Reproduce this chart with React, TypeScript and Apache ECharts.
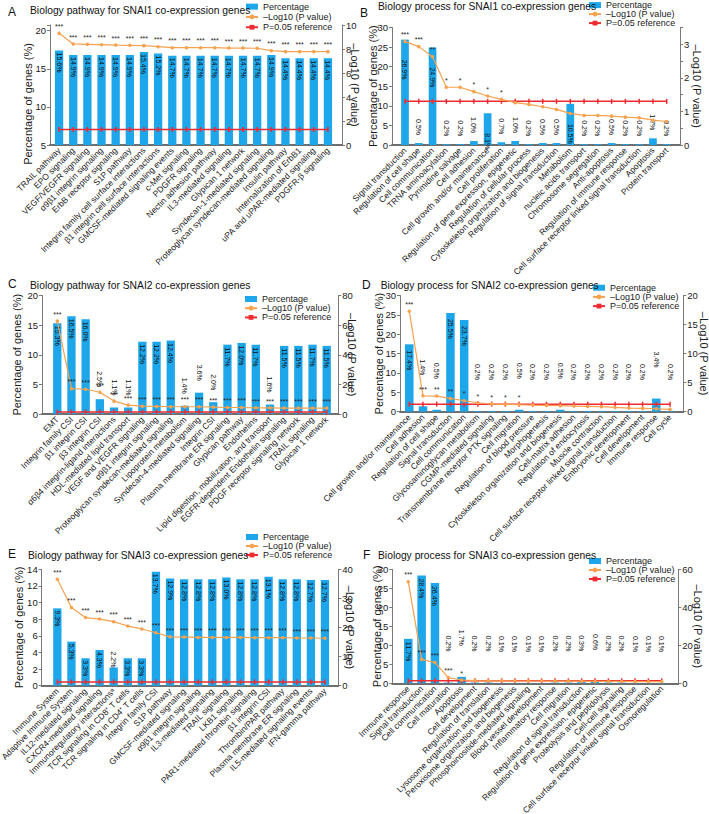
import React, { useEffect, useRef } from 'react';
import * as echarts from 'echarts';

// ---------- DATA ----------
const aCats = ['TRAIL pathway', 'EPO signaling', 'VEGF/VEGFR signaling', 'α9β1 integrin signaling', 'ErbB receptor signaling', 'S1P pathway', 'Integrin family cell surface interactions', 'β1 integrin cell surface interactions', 'GMCSF-mediated signaling events', 'c-Met signaling', 'PDGFR signaling', 'Nectin adhesion pathway', 'IL3-mediated signaling', 'Glypican 1 network', 'Syndecan-1-mediated signaling', 'Proteoglycan syndecan-mediated signaling', 'Insulin pathway', 'Internalization of ErbB1', 'uPA and uPAR-mediated signaling', 'PDGFR-β signaling'];
const aBarHeights = [17.4, 16.8, 16.8, 16.8, 16.8, 16.8, 17.2, 17.0, 16.7, 16.7, 16.7, 16.7, 16.7, 16.7, 16.7, 16.8, 16.4, 16.4, 16.4, 16.4];
const aPct = [15.6, 14.9, 14.9, 14.9, 14.9, 14.9, 15.4, 15.2, 14.7, 14.7, 14.7, 14.7, 14.7, 14.7, 14.7, 14.9, 14.4, 14.4, 14.4, 14.4];
const aLog = [9.31, 8.42, 8.39, 8.36, 8.33, 8.31, 8.28, 8.19, 8.11, 8.11, 8.11, 8.11, 8.08, 8.08, 8.06, 7.86, 7.78, 7.78, 7.78, 7.78];
const aStars = ['***', '***', '***', '***', '***', '***', '***', '***', '***', '***', '***', '***', '***', '***', '***', '***', '***', '***', '***', '***'];

const bCats = ['Signal transduction', 'Regulation of cell shape', 'Cell communication', 'TRNA aminoacylation', 'Pyrimidine salvage', 'Cell adhesion', 'Cell growth and/or maintenance', 'Cell proliferation', 'Regulation of gene expression, epigenetic', 'Regulation of cellular process', 'Cytoskeleton organization and biogenesis', 'Regulation of signal transduction', 'Metabolism', 'nucleic acids transport', 'Chromosome segregation', 'Anti-apoptosis', 'Regulation of immune response', 'Cell surface receptor linked signal transduction', 'Apoptosis', 'Protein transport'];
const bPct = [26.9, 0.5, 24.9, 0.2, 0.2, 1.0, 8.1, 0.7, 1.0, 0.2, 0.5, 0.5, 10.5, 0.2, 0.2, 0.5, 0.2, 0.2, 1.7, 0.2];
const bLog = [3.08, 2.93, 2.63, 1.72, 1.72, 1.59, 1.46, 1.36, 1.26, 1.21, 1.14, 1.06, 0.94, 0.88, 0.88, 0.86, 0.83, 0.81, 0.74, 0.70];
const bStars = ['***', '***', '**', '*', '*', '*', '*', '*', '', '', '', '', '', '', '', '', '', '', '', ''];

const cCats = ['EMT', 'Integrin family CSI', 'β1 integrin CSI', 'β3 integrin CSI', 'α6β4 integrin-ligand interactions', 'HDL-mediated lipid transport', 'VEGF and VEGFR signaling', 'α9β1 integrin signaling', 'Proteoglycan syndecan-mediated signaling', 'Lipoprotein metabolism', 'Syndecan-4-mediated signaling', 'Integrin CSI', 'Plasma membrane ER signaling', 'Glypican pathway', 'Endothelins', 'Lipid digestion, mobilization, and transport', 'EGFR-dependent Endothelin signaling', 'PDGF receptor signaling network', 'TRAIL signaling', 'Glypican 1 network'];
const cPct = [15.3, 16.5, 16.0, 2.5, 1.1, 1.1, 12.2, 12.2, 12.4, 1.4, 3.6, 2.0, 11.7, 12.0, 11.7, 1.6, 11.5, 11.5, 11.7, 11.5];
const cLog = [62.7, 17.1, 16.7, 14.7, 8.7, 6.0, 5.3, 5.1, 4.9, 4.9, 4.9, 4.7, 4.4, 4.4, 4.2, 4.2, 4.0, 4.0, 4.0, 4.0];
const cStars = ['***', '***', '***', '***', '***', '***', '***', '***', '***', '***', '***', '***', '***', '***', '***', '***', '***', '***', '***', '***'];

const dCats = ['Cell growth and/or maintenance', 'Cell adhesion', 'Regulation of cell shape', 'Signal transduction', 'Cell communication', 'Glycosaminoglycan metabolism', 'CGMP-mediated signaling', 'Transmembrane receptor PTK signaling', 'Cell migration', 'Regulation of blood pressure', 'Morphogenesis', 'Cytoskeleton organization and biogenesis', 'Cell-matrix adhesion', 'Regulation of endocytosis', 'Muscle contraction', 'Cell surface receptor linked signal transduction', 'Embryonic development', 'Cell development', 'Immune response', 'Cell cycle'];
const dPct = [17.4, 1.4, 0.5, 25.5, 23.7, 0.2, 0.2, 0.2, 0.5, 0.2, 0.2, 0.5, 0.2, 0.2, 0.2, 0.2, 0.2, 0.2, 3.4, 0.2];
const dLog = [17.3, 2.74, 2.69, 2.29, 1.89, 1.54, 1.31, 1.26, 1.2, 1.14, 1.09, 1.03, 0.97, 0.91, 0.86, 0.74, 0.63, 0.57, 0.51, 0.4];
const dStars = ['***', '***', '**', '**', '*', '*', '*', '*', '*', '', '', '', '', '', '', '', '', '', '', ''];

const eCats = ['Immune System', 'Adaptive Immune System', 'IL12-mediated signaling', 'CXCR4-mediated signaling', 'Immunoregulatory interactionsᵃ', 'TCR signaling in CD8⁺ T cells', 'TCR signaling in CD4⁺ T cells', 'Integrin family CSI', 'S1P pathway', 'GMCSF-mediated signaling', 'α9β1 integrin signaling', 'IL3-mediated signaling', 'TRAIL signaling', 'LKB1 signaling', 'PAR1-mediated thrombin signaling', 'β1 integrin CSI', 'Thrombin/PAR pathway', 'Plasma membrane ER signaling', 'IL5-mediated signaling events', 'IFN-gamma pathway'];
const ePct = [9.3, 5.3, 3.3, 4.3, 2.2, 3.3, 3.3, 13.7, 12.9, 12.8, 12.8, 12.8, 13.0, 12.8, 12.8, 13.1, 12.8, 12.8, 12.7, 12.7];
const eLog = [36.6, 26.9, 23.4, 22.9, 22.0, 20.5, 19.5, 18.2, 16.8, 16.7, 16.6, 16.6, 16.6, 16.6, 16.5, 16.5, 16.5, 16.4, 16.4, 16.3];
const eStars = ['***', '***', '***', '***', '***', '***', '***', '***', '***', '***', '***', '***', '***', '***', '***', '***', '***', '***', '***', '***'];

const fCats = ['Immune response', 'Signal transduction', 'Cell communication', 'Cell maturation', 'Apoptosis', 'Cell development', 'Regulation of translation', 'Lysosome organization and biogenesis', 'Peroxisome organization and biogenesis', 'Phosphoinositide-mediated signaling', 'Blood vessel development', 'Inflammatory response', 'Cell migration', 'Regulation of signal transduction', 'Regulation of gene expression, epigenetic', 'Proteolysis and peptidolysis', 'Cell-cell signaling', 'Regulation of immune response', 'Cell surface receptor linked signal transduction', 'Osmoregulation'];
const fPct = [11.7, 28.4, 26.4, 0.2, 1.7, 0.2, 0.2, 0.1, 0.1, 0.1, 0.1, 0.2, 0.2, 0.3, 0.6, 0.2, 0.2, 0.1, 0.1, 0.1];
const fLog = [53.5, 12.6, 10.9, 3.0, 1.75, 1.4, 1.3, 1.3, 1.2, 1.2, 1.2, 1.1, 1.1, 1.1, 1.0, 1.0, 1.0, 0.9, 0.9, 0.9];
const fStars = ['***', '***', '***', '***', '*', '', '', '', '', '', '', '', '', '', '', '', '', '', '', ''];

const REF_LOG = 1.3; // -log10(0.05)

// ---------- STYLE / LAYOUT ----------
const FONT = 'Arial, "Liberation Sans", Helvetica, sans-serif';
const BLUE = '#1DA6E9';
const ORANGE = '#F6A24E';
const RED = '#EE2B30';
const AXIS = '#7a7a7a';
const TXT = '#1a1a1a';
const N_BAR = 'Percentage';
const N_LOG = '–Log10 (P value)';
const N_REF = 'P=0.05 reference';
const N_PCT = 'Percentage of genes (%)';

const FS_TITLE = 10.3;
const FS_LETTER = 12;
const FS_NAME = 11;
const FS_TICK = 9.5;
const FS_CAT = 8.5;
const FS_LEGEND = 9;
const FS_BARLAB = 7;
const FS_STAR = 7;

const panels = [
  {
    letter: 'A', title: 'Biology pathway for SNAI1 co-expression genes',
    cats: aCats, bars: aBarHeights, pct: aPct, logp: aLog, stars: aStars,
    L: { grid: [52, 335, 25, 145], frame: [50, 342], left: [5, 20.75, 5], right: [0, 10, 2], lOff: 2, rOff: 7, lGap: 13, rGap: 7,
      lNameAt: [28, 104], bw: 8.3, lab: [0, 2, 4], legend: [245, 1.5, 10.3], letterXY: [8, 5.7], titleXY: [30, 5.5] },
  },
  {
    letter: 'B', title: 'Biology process for SNAI1 co-expression genes',
    cats: bCats, bars: bPct, pct: bPct, logp: bLog, stars: bStars,
    L: { grid: [398.1, 673.6, 27.5, 145], frame: [392, 680], left: [0, 30, 5], right: [0, 3.5, 0.5], lOff: 6.1, rOff: 6.4, lGap: 14, rGap: 11,
      lNameAt: null, bw: 7.7, lab: [5, 20, 8], legend: [588, 0.6, 8.8], letterXY: [360, 6.7], titleXY: [378, 1.5] },
  },
  {
    letter: 'C', title: 'Biology pathway for SNAI2 co-expression genes',
    cats: cCats, bars: cPct, pct: cPct, logp: cLog, stars: cStars,
    L: { grid: [50.2, 333.8, 295.5, 414], frame: [42, 338.3], left: [0, 20, 5], right: [0, 80, 20], lOff: 8.2, rOff: 4.5, lGap: 20, rGap: 8,
      lNameAt: null, bw: 8.3, lab: [5, 2.5, 12], legend: [244, 294.4, 9.2], letterXY: [8, 278.4], titleXY: [30, 280] },
  },
  {
    letter: 'D', title: 'Biology process for SNAI2 co-expression genes',
    cats: dCats, bars: dPct, pct: dPct, logp: dLog, stars: dStars,
    L: { grid: [402.4, 676.9, 295.5, 411.7], frame: [400, 683.3], left: [0, 30, 5], right: [0, 20, 5], lOff: 2.4, rOff: 6.4, lGap: 16, rGap: 15,
      lNameAt: null, bw: 8.5, lab: [5, 6, 31], legend: [592, 283.1, 9.2], letterXY: [362, 279], titleXY: [380.7, 280.3] },
  },
  {
    letter: 'E', title: 'Biology pathway for SNAI3 co-expression genes',
    cats: eCats, bars: ePct, pct: ePct, logp: eLog, stars: eStars,
    L: { grid: [50.3, 332, 569.3, 685.7], frame: [41.7, 338.3], left: [0, 14, 2], right: [0, 40, 10], lOff: 8.6, rOff: 6.3, lGap: 17, rGap: 6,
      lNameAt: null, bw: 8.3, lab: [3, 2, 0], legend: [245, 532.5, 9], letterXY: [8, 548.4], titleXY: [28, 550.3] },
  },
  {
    letter: 'F', title: 'Biology process for SNAI3 co-expression genes',
    cats: fCats, bars: fPct, pct: fPct, logp: fLog, stars: fStars,
    L: { grid: [401.6, 668.4, 569.3, 683.3], frame: [392.3, 678.3], left: [0, 30, 5], right: [0, 60, 20], lOff: 9.3, rOff: 9.9, lGap: 10, rGap: 14,
      lNameAt: null, bw: 8.5, lab: [5, 3, 31], legend: [588, 556.5, 9], letterXY: [363, 549.4], titleXY: [378, 550.9] },
  },
];

function buildOption() {
  const option: any = {
    animation: false,
    textStyle: { fontFamily: FONT },
    title: [], legend: [], grid: [], xAxis: [], yAxis: [], series: [], graphic: [],
  };

  panels.forEach((p) => {
    const L: any = p.L;
    const gi = option.grid.length;
    const top = L.grid[2];
    const height = L.grid[3] - L.grid[2];
    option.grid.push({ left: L.grid[0], top, width: L.grid[1] - L.grid[0], height, containLabel: false, outerBoundsMode: 'none' });
    option.grid.push({ left: L.frame[0], top, width: L.frame[1] - L.frame[0], height, containLabel: false, outerBoundsMode: 'none' });

    const xi = option.xAxis.length;
    option.xAxis.push({
      type: 'category', gridIndex: gi, data: p.cats,
      axisLine: { show: false }, axisTick: { show: false }, splitLine: { show: false },
      axisLabel: { interval: 0, rotate: 45, fontSize: FS_CAT, color: TXT, margin: 4, fontFamily: FONT, hideOverlap: false },
    });
    option.xAxis.push({
      type: 'value', gridIndex: gi + 1, min: 0, max: 1,
      axisLine: { show: true, onZero: false, lineStyle: { color: '#6e6e6e', width: 2 } },
      axisTick: { show: false }, axisLabel: { show: false }, splitLine: { show: false },
    });

    const yi = option.yAxis.length;
    const [lmin, lmax, lint] = L.left;
    const [rmin, rmax, rint] = L.right;
    const isMult = (v: number, step: number) => Math.abs(v / step - Math.round(v / step)) < 1e-6;
    option.yAxis.push({
      type: 'value', gridIndex: gi, position: 'left', min: lmin, max: lmax, interval: lint, offset: L.lOff, startValue: lmin,
      name: L.lNameAt ? '' : N_PCT, nameLocation: 'middle', nameGap: L.lGap, nameRotate: 90, nameMoveOverlap: false,
      nameTextStyle: { fontSize: FS_NAME, color: TXT, fontFamily: FONT },
      axisLine: { show: true, lineStyle: { color: AXIS, width: 1 } },
      axisTick: { show: true, length: 3, lineStyle: { color: AXIS } },
      axisLabel: { fontSize: FS_TICK, color: TXT, margin: 4, fontFamily: FONT, formatter: (v: number) => (isMult(v, lint) ? String(v) : '') },
      splitLine: { show: false },
    });
    option.yAxis.push({
      type: 'value', gridIndex: gi, position: 'right', min: rmin, max: rmax, interval: rint, offset: L.rOff,
      name: N_LOG, nameLocation: 'middle', nameGap: L.rGap, nameRotate: -90, nameMoveOverlap: false,
      nameTextStyle: { fontSize: FS_NAME, color: TXT, fontFamily: FONT },
      axisLine: { show: true, lineStyle: { color: AXIS, width: 1 } },
      axisTick: { show: true, length: 3, lineStyle: { color: AXIS } },
      axisLabel: { fontSize: FS_TICK, color: TXT, margin: 4, fontFamily: FONT, formatter: (v: number) => (rint < 1 ? (Number.isInteger(v) ? String(v) : '') : String(v)) },
      splitLine: { show: false },
    });
    option.yAxis.push({ type: 'value', gridIndex: gi + 1, show: false, min: 0, max: 1 });

    if (L.lNameAt) {
      option.graphic.push({
        type: 'text', x: L.lNameAt[0], y: L.lNameAt[1], rotation: Math.PI / 2, silent: true,
        style: { text: N_PCT, fontSize: FS_NAME, fontFamily: FONT, fill: TXT, align: 'center', verticalAlign: 'middle' },
      });
    }

    const [thr, inDist, outDist] = L.lab;
    option.series.push({
      type: 'bar', name: N_BAR, xAxisIndex: xi, yAxisIndex: yi, barWidth: L.bw, clip: true,
      itemStyle: { color: BLUE },
      data: p.bars.map((v: number, i: number) => ({
        value: v,
        label: p.pct[i] >= thr
          ? { position: 'insideTop', distance: inDist, align: 'left', verticalAlign: 'middle' }
          : { position: 'top', distance: outDist, align: 'right', verticalAlign: 'middle' },
      })),
      label: {
        show: true, rotate: -90, fontSize: FS_BARLAB, color: '#111', fontFamily: FONT,
        formatter: (prm: any) => p.pct[prm.dataIndex].toFixed(1) + '%',
      },
      z: 2,
    });
    option.series.push({
      type: 'line', name: N_REF, xAxisIndex: xi, yAxisIndex: yi + 1,
      data: p.cats.map(() => REF_LOG),
      symbol: 'rect', symbolSize: [1.5, 5], showSymbol: true,
      itemStyle: { color: RED }, lineStyle: { color: RED, width: 1.5 },
      z: 3,
    });
    option.series.push({
      type: 'line', name: N_LOG, xAxisIndex: xi, yAxisIndex: yi + 1,
      data: p.logp, symbol: 'circle', symbolSize: 3.5, showSymbol: true,
      itemStyle: { color: ORANGE }, lineStyle: { color: ORANGE, width: 1.2 },
      label: {
        show: true, position: 'top', distance: 1.5, fontSize: FS_STAR, color: '#222', fontFamily: FONT,
        formatter: (prm: any) => p.stars[prm.dataIndex] || '',
      },
      z: 4,
    });

    option.legend.push({
      orient: 'vertical', left: L.legend[0], top: L.legend[1], itemGap: 0,
      itemWidth: 12, itemHeight: 6, padding: 0, selectedMode: false,
      textStyle: { fontSize: FS_LEGEND, color: TXT, lineHeight: L.legend[2], fontFamily: FONT },
      data: [{ name: N_BAR, icon: 'rect' }, N_LOG, N_REF],
    });

    option.title.push({
      text: p.letter, left: L.letterXY[0], top: L.letterXY[1], padding: 0,
      textStyle: { fontSize: FS_LETTER, fontWeight: 'normal', color: '#111', fontFamily: FONT },
    });
    option.title.push({
      text: p.title, left: L.titleXY[0], top: L.titleXY[1], padding: 0,
      textStyle: { fontSize: FS_TITLE, fontWeight: 'normal', color: '#111', fontFamily: FONT },
    });
  });

  return option;
}

export default function App() {
  const ref = useRef<HTMLDivElement>(null);
  useEffect(() => {
    if (!ref.current) return;
    const chart = echarts.init(ref.current, undefined, { renderer: 'svg' });
    chart.setOption(buildOption());
    return () => chart.dispose();
  }, []);
  return (
    <div
      ref={ref}
      style={{ position: 'absolute', left: 0, top: 0, width: 709, height: 814, background: '#fff' }}
    />
  );
}
